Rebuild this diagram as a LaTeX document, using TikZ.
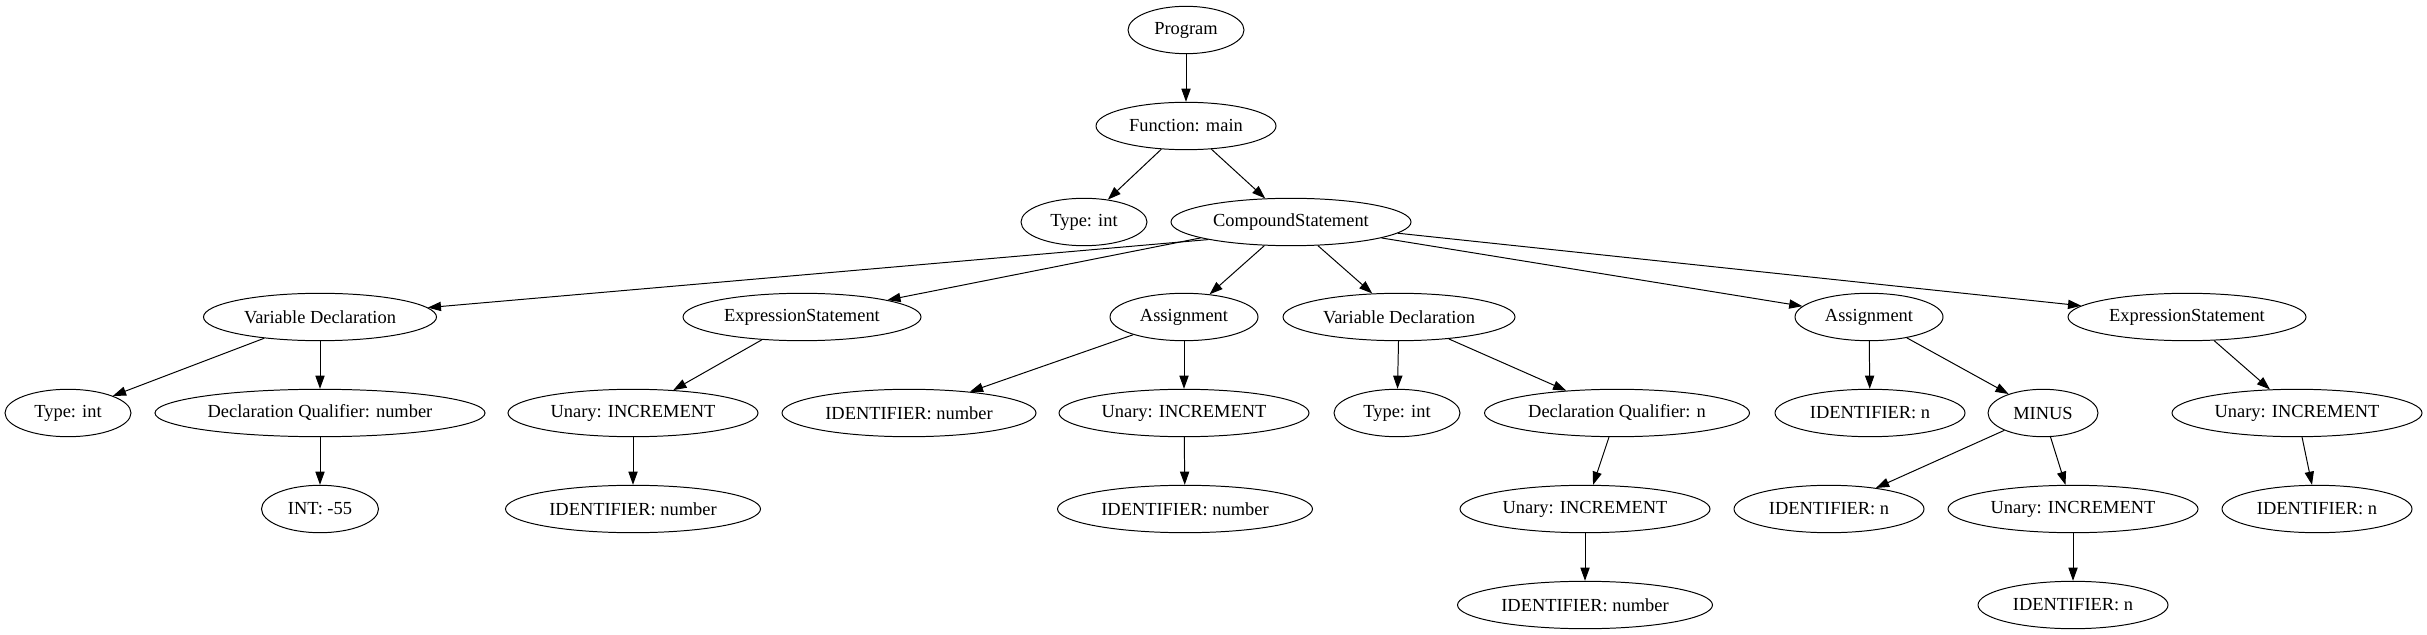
\documentclass[tikz,border=0pt]{standalone}
\usepackage{fontspec}
\setmainfont{Liberation Serif}
\usetikzlibrary{arrows.meta,shapes.geometric}
\tikzset{
  nd/.style={draw, ellipse, line width=0.75pt, inner sep=0pt, minimum height=36pt, font=\fontsize{14pt}{16pt}\selectfont},
  ew/.style={minimum width={#1*0.7595pt}},
  edge/.style={line width=0.75pt, -{Triangle[length=10pt,width=7pt]}}
}
\begin{document}
\begin{tikzpicture}[x=0.7595pt,y=-0.7595pt]
\useasboundingbox (0,0) rectangle (2427,635);
% level 0-2
\node[nd,ew=116] (prog) at (1186,30) {Program};
\node[nd,ew=180] (func) at (1186,126) {Function: main};
\node[nd,ew=126] (type0) at (1084,222) {Type: int};
\node[nd,ew=240] (comp) at (1291,222) {CompoundStatement};
% level 3
\node[nd,ew=233] (vd1) at (320,317) {Variable Declaration};
\node[nd,ew=238] (es1) at (802,317) {ExpressionStatement};
\node[nd,ew=148] (as1) at (1184,317) {Assignment};
\node[nd,ew=232] (vd2) at (1399,317) {Variable Declaration};
\node[nd,ew=148] (as2) at (1869,317) {Assignment};
\node[nd,ew=238] (es2) at (2187,317) {ExpressionStatement};
% level 4
\node[nd,ew=126] (t1) at (68,413) {Type: int};
\node[nd,ew=330] (dq1) at (320,413) {Declaration Qualifier: number};
\node[nd,ew=250] (un1) at (633,413) {Unary: INCREMENT};
\node[nd,ew=254] (id1) at (909,413) {IDENTIFIER: number};
\node[nd,ew=250] (un2) at (1184,413) {Unary: INCREMENT};
\node[nd,ew=126] (t2) at (1397,413) {Type: int};
\node[nd,ew=265] (dq2) at (1617,413) {Declaration Qualifier: n};
\node[nd,ew=190] (id2) at (1870,413) {IDENTIFIER: n};
\node[nd,ew=110] (minus) at (2043,413) {MINUS};
\node[nd,ew=250] (un3) at (2297,413) {Unary: INCREMENT};
% level 5
\node[nd,ew=117] (int) at (320,509) {INT: -55};
\node[nd,ew=255] (id3) at (633,509) {IDENTIFIER: number};
\node[nd,ew=255] (id4) at (1185,509) {IDENTIFIER: number};
\node[nd,ew=250] (un4) at (1585,509) {Unary: INCREMENT};
\node[nd,ew=190] (id5) at (1829,509) {IDENTIFIER: n};
\node[nd,ew=250] (un5) at (2073,509) {Unary: INCREMENT};
\node[nd,ew=190] (id6) at (2317,509) {IDENTIFIER: n};
% level 6
\node[nd,ew=255] (id7) at (1585,605) {IDENTIFIER: number};
\node[nd,ew=190] (id8) at (2073,605) {IDENTIFIER: n};
% edges
\draw[edge] (prog) -- (func);
\draw[edge] (func) -- (type0);
\draw[edge] (func) -- (comp);
\draw[edge] (comp.192) -- (vd1);
\draw[edge] (comp.190) -- (es1);
\draw[edge] (comp) -- (as1);
\draw[edge] (comp) -- (vd2);
\draw[edge] (comp.-10) -- (as2);
\draw[edge] (comp.-6) -- (es2);
\draw[edge] (vd1) -- (t1);
\draw[edge] (vd1) -- (dq1);
\draw[edge] (dq1) -- (int);
\draw[edge] (es1) -- (un1);
\draw[edge] (un1) -- (id3);
\draw[edge] (as1) -- (id1);
\draw[edge] (as1) -- (un2);
\draw[edge] (un2) -- (id4);
\draw[edge] (vd2) -- (t2);
\draw[edge] (vd2) -- (dq2);
\draw[edge] (dq2) -- (un4);
\draw[edge] (un4) -- (id7);
\draw[edge] (as2) -- (id2);
\draw[edge] (as2) -- (minus);
\draw[edge] (minus) -- (id5);
\draw[edge] (minus) -- (un5);
\draw[edge] (un5) -- (id8);
\draw[edge] (es2) -- (un3);
\draw[edge] (un3) -- (id6);
\end{tikzpicture}
\end{document}
